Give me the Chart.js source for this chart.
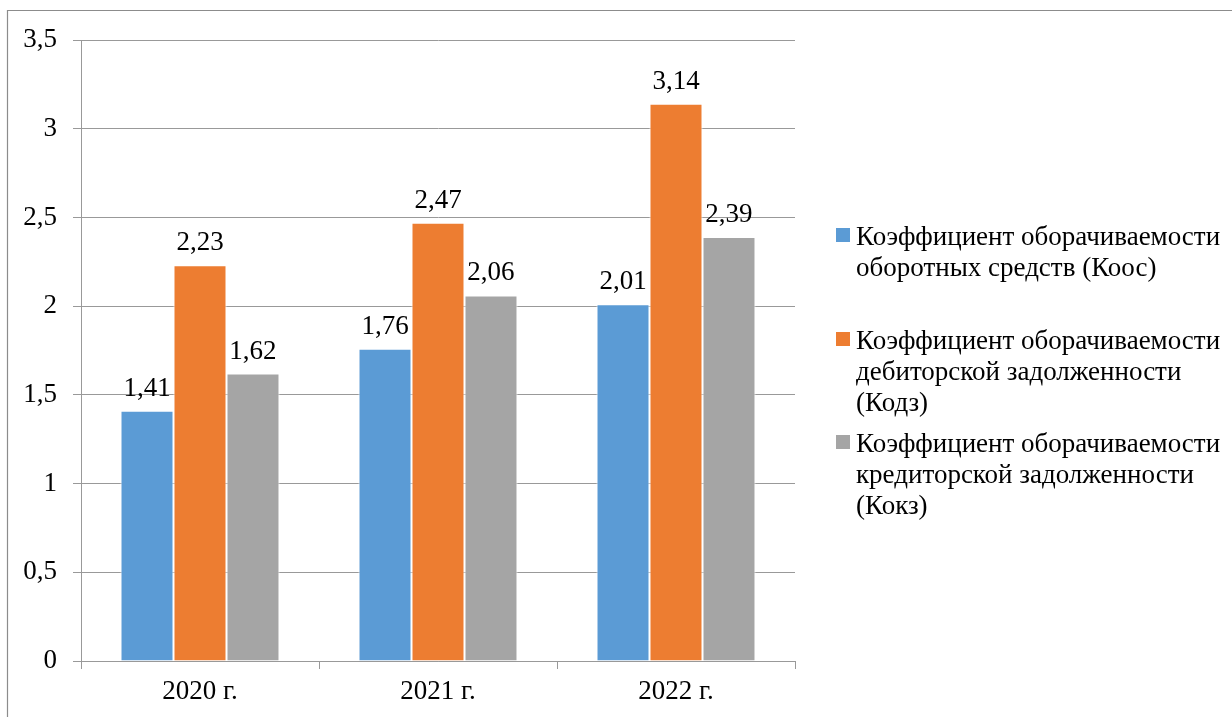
<!DOCTYPE html>
<html>
<head>
<meta charset="utf-8">
<script src="https://cdn.jsdelivr.net/npm/chart.js@4.4.1/dist/chart.umd.min.js"></script>
<style>
html,body{margin:0;padding:0;background:#fff;}
#wrap{width:1232px;height:717px;position:relative;}
</style>
</head>
<body>
<div id="wrap"><canvas id="c" width="1232" height="717"></canvas></div>
<script>
const categories = ['2020 г.', '2021 г.', '2022 г.'];
const koos = [1.41, 1.76, 2.01];
const kodz = [2.23, 2.47, 3.14];
const kokz = [1.62, 2.06, 2.39];
const seriesNames = [
  ['Коэффициент оборачиваемости', 'оборотных средств (Коос)'],
  ['Коэффициент оборачиваемости', 'дебиторской задолженности', '(Кодз)'],
  ['Коэффициент оборачиваемости', 'кредиторской задолженности', '(Кокз)']
];
const colors = ['#5B9BD5', '#ED7D31', '#A5A5A5'];
const yMin = 0, yMax = 3.5, yStep = 0.5;

const FONT = '"Liberation Serif", "Times New Roman", serif';
const FSIZE = 27;
const fmt = v => String(v).replace('.', ',');

const frame = {
  id: 'frame',
  beforeDraw(chart) {
    const ctx = chart.ctx;
    ctx.save();
    ctx.fillStyle = '#fff';
    ctx.fillRect(0, 0, chart.width, chart.height);
    ctx.strokeStyle = '#8c8c8c';
    ctx.lineWidth = 1.2;
    ctx.beginPath();
    ctx.moveTo(7.5, chart.height + 5);
    ctx.lineTo(7.5, 10.5);
    ctx.lineTo(chart.width + 5, 10.5);
    ctx.stroke();
    ctx.restore();
  }
};

const dataLabels = {
  id: 'dataLabels',
  afterDatasetsDraw(chart) {
    const ctx = chart.ctx;
    ctx.save();
    ctx.font = FSIZE + 'px ' + FONT;
    ctx.fillStyle = '#000';
    ctx.textAlign = 'center';
    ctx.textBaseline = 'alphabetic';
    chart.data.datasets.forEach((ds, i) => {
      chart.getDatasetMeta(i).data.forEach((bar, j) => {
        ctx.fillText(fmt(ds.data[j]), bar.x, bar.y - 15);
      });
    });
    ctx.restore();
  }
};

const customLegend = {
  id: 'customLegend',
  afterDraw(chart) {
    const ctx = chart.ctx;
    const baselines = [245, 349, 452];
    const lineH = 31;
    ctx.save();
    ctx.font = FSIZE + 'px ' + FONT;
    ctx.textAlign = 'left';
    ctx.textBaseline = 'alphabetic';
    chart.data.datasets.forEach((ds, i) => {
      const b = baselines[i];
      ctx.fillStyle = ds.backgroundColor;
      ctx.fillRect(836, b - 17, 14, 14);
      ctx.fillStyle = '#000';
      seriesNames[i].forEach((line, k) => {
        ctx.fillText(line, 856, b + k * lineH);
      });
    });
    ctx.restore();
  }
};

new Chart(document.getElementById('c'), {
  type: 'bar',
  data: {
    labels: categories,
    datasets: [
      { label: seriesNames[0].join(' '), data: koos, backgroundColor: colors[0] },
      { label: seriesNames[1].join(' '), data: kodz, backgroundColor: colors[1] },
      { label: seriesNames[2].join(' '), data: kokz, backgroundColor: colors[2] }
    ]
  },
  options: {
    responsive: false,
    animation: false,
    devicePixelRatio: 1,
    layout: { padding: { top: 40, right: 437, left: 0, bottom: 0 } },
    datasets: {
      bar: {
        categoryPercentage: 0.668,
        barPercentage: 1,
        borderWidth: 1,
        borderColor: '#ffffff',
        borderSkipped: 'bottom'
      }
    },
    plugins: {
      legend: { display: false },
      tooltip: { enabled: false },
      title: { display: false }
    },
    scales: {
      x: {
        afterFit(s) { s.height = 56; },
        grid: {
          offset: true,
          drawOnChartArea: false,
          drawTicks: true,
          tickLength: 8,
          color: '#999999',
          lineWidth: 1
        },
        border: { display: true, color: '#999999', width: 1 },
        ticks: { color: '#000', padding: 7, font: { family: FONT, size: FSIZE } }
      },
      y: {
        min: yMin,
        max: yMax,
        afterFit(s) { s.width = 81; },
        grid: {
          drawTicks: true,
          tickLength: 8,
          color: '#999999',
          lineWidth: 1
        },
        border: { display: true, color: '#999999', width: 1 },
        ticks: {
          stepSize: yStep,
          color: '#000',
          padding: 16,
          font: { family: FONT, size: FSIZE },
          callback: v => fmt(v)
        }
      }
    }
  },
  plugins: [frame, dataLabels, customLegend]
});
</script>
</body>
</html>
